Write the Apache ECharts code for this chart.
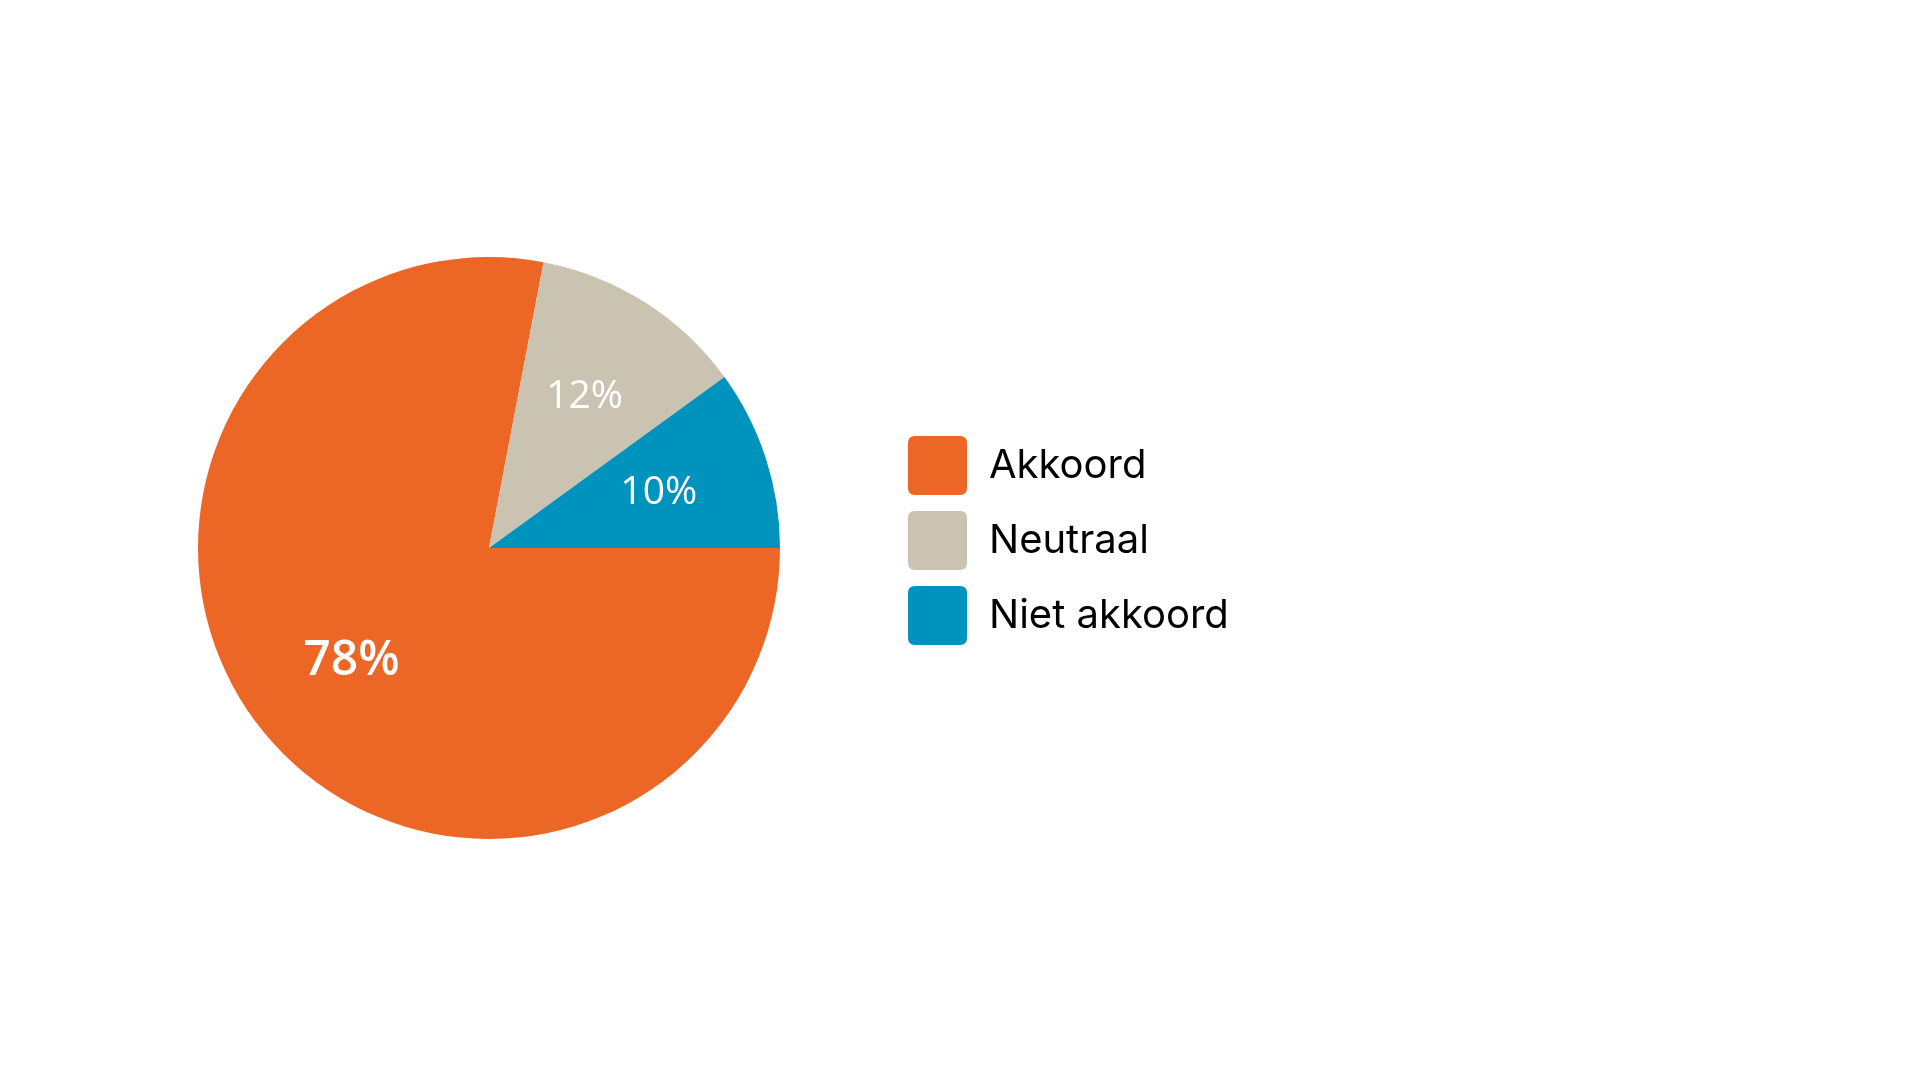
<!DOCTYPE html>
<html>
<head>
<meta charset="utf-8">
<script src="https://cdn.jsdelivr.net/npm/echarts@6/dist/echarts.min.js"></script>
<style>
  html, body { margin: 0; padding: 0; background: #fff; }
  #chart { width: 1920px; height: 1080px; }
</style>
</head>
<body>
<div id="chart"></div>
<script>
// data
const categories = ['Akkoord', 'Neutraal', 'Niet akkoord']
const values = [78, 12, 10]
const colors = ['#EC6625', '#CBC3B2', '#0093BE']

const chart = echarts.init(document.getElementById('chart'))

const sliceData = categories.map((name, i) => ({
    name: name,
    value: values[i],
    itemStyle: { color: colors[i] }
}))

// labels sit a bit further out than the default 'inside' spot, so they get their own transparent ring
const labelData = categories.map((name, i) => ({
    name: name,
    value: values[i],
    itemStyle: { color: 'rgba(0,0,0,0)' },
    label: i === 0
        ? { fontSize: 48, fontWeight: 600 }
        : { fontSize: 39, fontWeight: 'normal' }
}))

const roundBox = 'path://M7,0H52Q59,0 59,7V52Q59,59 52,59H7Q0,59 0,52V7Q0,0 7,0Z'

chart.setOption({
    animation: false,
    legend: {
        orient: 'vertical',
        left: 903,
        top: 431,
        itemWidth: 59,
        itemHeight: 59,
        itemGap: 16,
        icon: roundBox,
        data: categories,
        selectedMode: false,
        textStyle: {
            fontFamily: 'Inter',
            fontSize: 40,
            color: '#000',
            padding: [0, 0, 0, 17]
        }
    },
    series: [
        {
            type: 'pie',
            center: [489, 548],
            radius: [0, 291],
            startAngle: 0,
            clockwise: true,
            label: { show: false },
            labelLine: { show: false },
            emphasis: { disabled: true },
            data: sliceData
        },
        {
            type: 'pie',
            center: [489, 548],
            radius: [60, 291],
            startAngle: 0,
            clockwise: true,
            silent: true,
            legendHoverLink: false,
            label: {
                show: true,
                position: 'inside',
                formatter: '{d}%',
                color: '#fff',
                fontFamily: 'Open Sans'
            },
            labelLine: { show: false },
            emphasis: { disabled: true },
            data: labelData
        }
    ]
})
</script>
</body>
</html>
